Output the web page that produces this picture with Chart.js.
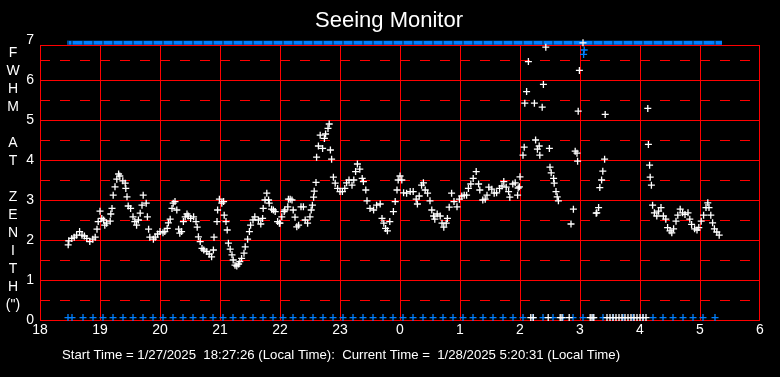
<!DOCTYPE html>
<html>
<head>
<meta charset="utf-8">
<script src="https://cdn.jsdelivr.net/npm/chart.js@4.4.1/dist/chart.umd.min.js"></script>
<style>
html,body{margin:0;padding:0;background:#000;}
canvas{display:block;}
</style>
</head>
<body>
<canvas id="c" width="780" height="377"></canvas>
<script>
// ---------------- data ----------------
const hourLabels = ['18','19','20','21','22','23','0','1','2','3','4','5','6'];
const yTickLabels = ['0','1','2','3','4','5','6','7'];

// seeing samples: hours after midnight of start day (24+ = next day)
const seeingTimes = [
18.47,18.48,18.53,18.57,18.61,18.66,18.70,18.74,18.78,18.83,
18.88,18.92,18.95,18.97,19.00,19.03,19.06,19.08,19.11,19.17,
19.18,19.20,19.22,19.25,19.28,19.31,19.33,19.38,19.42,19.43,
19.45,19.47,19.51,19.55,19.58,19.61,19.64,19.67,19.70,19.72,
19.77,19.79,19.81,19.83,19.89,19.92,19.96,20.00,20.05,20.08,
20.12,20.14,20.17,20.20,20.22,20.25,20.28,20.31,20.33,20.36,
20.39,20.42,20.45,20.47,20.51,20.56,20.60,20.62,20.64,20.67,
20.70,20.73,20.78,20.82,20.86,20.89,20.90,20.95,20.96,20.99,
21.03,21.06,21.07,21.10,21.12,21.14,21.17,21.20,21.22,21.25,
21.28,21.31,21.33,21.36,21.40,21.42,21.46,21.49,21.51,21.55,
21.58,21.64,21.68,21.71,21.72,21.75,21.78,21.81,21.82,21.86,
21.89,21.92,21.96,21.99,22.00,22.03,22.07,22.08,22.13,22.14,
22.17,22.20,22.22,22.25,22.28,22.31,22.35,22.39,22.42,22.46,
22.50,22.52,22.54,22.56,22.57,22.60,22.61,22.64,22.67,22.71,
22.74,22.76,22.80,22.82,22.84,22.86,22.89,22.92,22.96,23.00,
23.04,23.08,23.11,23.15,23.20,23.23,23.26,23.29,23.33,23.37,
23.39,23.43,23.45,23.50,23.56,23.61,23.67,23.70,23.73,23.76,
23.79,23.83,23.89,23.92,23.95,23.97,24.00,24.03,24.06,24.11,
24.17,24.22,24.27,24.29,24.32,24.36,24.39,24.42,24.46,24.50,
24.53,24.56,24.58,24.62,24.67,24.70,24.73,24.77,24.79,24.82,
24.86,24.90,24.95,24.99,25.03,25.07,25.11,25.14,25.18,25.22,
25.27,25.31,25.33,25.38,25.42,25.45,25.48,25.53,25.57,25.61,
25.66,25.70,25.73,25.77,25.81,25.83,25.88,25.92,25.96,25.97,
25.99,26.00,26.05,26.07,26.08,26.11,26.14,26.24,26.26,26.29,
26.32,26.33,26.37,26.39,26.43,26.49,26.50,26.52,26.56,26.57,
26.60,26.62,26.64,26.85,26.89,26.92,26.95,26.96,26.97,26.99,
27.27,27.28,27.31,27.33,27.36,27.38,27.41,27.42,28.13,28.14,
28.16,28.17,28.19,28.21,28.24,28.28,28.31,28.35,28.39,28.43,
28.46,28.50,28.53,28.56,28.60,28.63,28.67,28.71,28.75,28.80,
28.83,28.86,28.91,28.95,28.98,29.02,29.06,29.10,29.13,29.15,
29.18,29.21,29.24,29.28,29.32,27.05
];
const seeingValues = [
1.88,1.98,2.04,2.07,2.12,2.21,2.12,2.10,2.04,1.96,
2.02,2.07,2.27,2.46,2.72,2.54,2.50,2.37,2.42,2.47,
2.65,2.79,3.12,3.33,3.52,3.65,3.60,3.48,3.42,3.29,
3.08,2.85,2.79,2.58,2.46,2.37,2.50,2.67,2.87,3.12,
2.92,2.58,2.27,2.07,2.02,2.07,2.15,2.21,2.18,2.21,
2.29,2.43,2.52,2.79,2.92,2.96,2.75,2.27,2.17,2.21,
2.46,2.58,2.65,2.60,2.54,2.58,2.46,2.32,2.08,1.96,
1.79,1.75,1.71,1.65,1.58,1.75,2.07,2.46,2.75,3.02,
2.92,2.96,2.62,2.46,2.25,1.92,1.77,1.63,1.50,1.37,
1.35,1.40,1.46,1.54,1.67,1.83,2.02,2.21,2.37,2.50,
2.58,2.50,2.40,2.54,2.79,3.00,3.17,3.00,2.92,2.77,
2.75,2.71,2.46,2.42,2.42,2.58,2.71,2.75,2.83,3.02,
3.02,3.00,2.75,2.57,2.33,2.37,2.83,2.83,2.50,2.42,
2.58,2.75,2.87,3.07,3.22,3.44,4.07,4.35,4.62,4.29,
4.54,4.65,4.79,4.90,4.25,4.02,3.57,3.42,3.29,3.21,
3.21,3.29,3.43,3.50,3.37,3.50,3.71,3.90,3.77,3.54,
3.46,3.25,2.98,2.79,2.75,2.87,2.90,2.54,2.42,2.29,
2.23,2.46,2.71,2.96,3.25,3.50,3.60,3.50,3.18,3.17,
3.21,3.21,3.02,2.90,3.10,3.37,3.43,3.25,3.17,2.98,
2.75,2.60,2.52,2.65,2.60,2.42,2.32,2.42,2.54,2.82,
3.17,2.96,2.83,3.02,3.10,3.12,3.12,3.29,3.40,3.54,
3.71,3.40,3.25,3.00,3.02,3.12,3.32,3.27,3.17,3.18,
3.29,3.35,3.46,3.32,3.21,3.07,3.40,3.43,3.12,3.30,
3.33,3.58,4.12,4.32,5.42,5.71,6.46,5.42,4.50,4.27,
4.35,4.12,5.32,5.89,6.82,4.29,3.82,3.68,3.54,3.42,
3.21,3.08,2.98,2.40,2.77,4.22,4.17,3.97,5.22,6.24,
2.67,2.68,2.81,3.31,3.50,3.72,4.02,5.14,5.29,4.39,
3.87,3.57,3.37,2.87,2.68,2.60,2.72,2.81,2.60,2.52,
2.31,2.23,2.18,2.28,2.47,2.62,2.77,2.68,2.64,2.68,
2.52,2.39,2.28,2.25,2.31,2.47,2.62,2.81,2.93,2.81,
2.62,2.43,2.28,2.20,2.12,6.93
];

// seeing samples flagged at the bottom of the chart
const zeroSeeingTimes = [26.18,26.22,26.47,26.67,26.70,26.82,27.17,27.20,27.23,27.45,
27.50,27.55,27.60,27.65,27.70,27.75,27.80,27.85,27.90,27.95,28.00,28.05,28.10];

// blue status markers (clock times)
const statusTimes = ['18:28','18:32','18:43','18:53','19:03','19:13','19:23','19:33','19:43','19:53',
'20:03','20:13','20:23','20:33','20:43','20:53','21:03','21:13','21:23','21:33',
'21:43','21:53','22:03','22:13','22:23','22:33','22:43','22:53','23:03','23:13',
'23:23','23:33','23:43','23:53','00:03','00:13','00:23','00:33','00:43','00:53',
'01:03','01:13','01:23','01:33','01:43','01:53','02:03','02:13','02:23','02:33',
'02:43','02:53','03:03','03:13','03:23','03:33','03:43','03:53','04:03','04:13',
'04:23','04:33','04:43','04:53','05:03','05:15'];
const topBarTimes = ['18:27','18:43','19:43','20:43','21:43','22:43','23:43','00:43','01:43','02:43','03:43','04:43','05:22'];
const blueHighTimes = [27.06, 27.07];
const blueHighValues = [6.64, 6.75];
const lowMarkerLevel = 0.06;
const topBarLevel = 6.93;

const titleText = 'Seeing Monitor';
const yAxisTitle = ['F','W','H','M','','A','T','','Z','E','N','I','T','H','(")'];
const footerText = 'Start Time = 1/27/2025  18:27:26 (Local Time):  Current Time =  1/28/2025 5:20:31 (Local Time)';

// ---------------- helpers / styles ----------------
const FONT = '"Liberation Sans", Arial, Helvetica, sans-serif';
const RED = '#ff0000';
const BLUE = 'rgb(0,128,255)';
const toHours = s => { const [h, m] = s.split(':').map(Number); let v = h + m / 60; if (v < 12) v += 24; return v; };

const gridPlugin = {
  id: 'seeingGrid',
  beforeDatasetsDraw(chart) {
    const { ctx, scales: { x, y } } = chart;
    const L = Math.round(x.getPixelForValue(18));
    const R = Math.round(x.getPixelForValue(30));
    const B = Math.round(y.getPixelForValue(0));
    const T = Math.round(y.getPixelForValue(6.875));
    ctx.save();
    ctx.strokeStyle = RED;
    ctx.lineWidth = 1;
    ctx.setLineDash([10, 10]);
    ctx.beginPath();
    for (let v = 0.5; v < 7; v += 1) {
      const py = Math.round(y.getPixelForValue(v)) + 0.5;
      ctx.moveTo(L, py); ctx.lineTo(R, py);
    }
    ctx.stroke();
    ctx.setLineDash([]);
    ctx.beginPath();
    for (let v = 1; v <= 6; v++) {
      const py = Math.round(y.getPixelForValue(v)) + 0.5;
      ctx.moveTo(L, py); ctx.lineTo(R, py);
    }
    for (let h = 19; h <= 29; h++) {
      const px = Math.round(x.getPixelForValue(h)) + 0.5;
      ctx.moveTo(px, T); ctx.lineTo(px, B);
    }
    ctx.stroke();
    ctx.strokeRect(L + 0.5, T + 0.5, R - L - 1, B - T);
    ctx.restore();
  }
};

const textPlugin = {
  id: 'seeingText',
  afterDraw(chart) {
    const ctx = chart.ctx;
    ctx.save();
    ctx.fillStyle = '#ffffff';
    ctx.textAlign = 'center';
    ctx.textBaseline = 'middle';
    ctx.font = '22px ' + FONT;
    ctx.fillText(titleText, 389, 21);
    ctx.font = '14px ' + FONT;
    yAxisTitle.forEach((ch, i) => { if (ch) ctx.fillText(ch, 13, 53 + i * 18); });
    ctx.textAlign = 'left';
    let size = 14;
    ctx.font = size + 'px ' + FONT;
    const w = ctx.measureText(footerText).width;
    size = size * 558 / w;
    ctx.font = size.toFixed(2) + 'px ' + FONT;
    ctx.fillText(footerText, 62, 355);
    ctx.restore();
  }
};

const whiteCross = { pointStyle: 'cross', pointRadius: 3.5, pointBorderWidth: 1.3, borderColor: '#ffffff', backgroundColor: '#ffffff', clip: false };
const blueCross = { pointStyle: 'cross', pointRadius: 3.5, pointBorderWidth: 1.3, borderColor: BLUE, backgroundColor: BLUE, clip: false };

new Chart(document.getElementById('c'), {
  type: 'scatter',
  data: {
    datasets: [
      Object.assign({ label: 'FWHM', data: seeingTimes.map((t, i) => ({ x: t, y: seeingValues[i] })) }, whiteCross),
      Object.assign({ label: 'zero', data: zeroSeeingTimes.map(t => ({ x: t, y: lowMarkerLevel })) }, whiteCross),
      Object.assign({ label: 'high', data: blueHighTimes.map((t, i) => ({ x: t, y: blueHighValues[i] })) }, blueCross),
      Object.assign({ label: 'status', data: statusTimes.map(s => ({ x: toHours(s), y: lowMarkerLevel })) }, blueCross),
      { label: 'notch', data: statusTimes.map(s => ({ x: toHours(s), y: topBarLevel })), pointStyle: 'line', rotation: 90, pointRadius: 2, pointBorderWidth: 1, borderColor: '#001a33', backgroundColor: '#001a33', clip: false },
      { label: 'bar', data: topBarTimes.map(s => ({ x: toHours(s), y: topBarLevel })), showLine: true, borderColor: BLUE, borderWidth: 4, pointRadius: 0, clip: false }
    ]
  },
  options: {
    responsive: false,
    animation: false,
    devicePixelRatio: 1,
    layout: { padding: { top: 40, right: 20, left: 0, bottom: 0 } },
    plugins: {
      legend: { display: false },
      tooltip: { enabled: false },
      title: { display: false }
    },
    scales: {
      x: {
        type: 'linear', min: 18, max: 30,
        afterFit(s) { s.height = 57; },
        grid: { display: false, drawTicks: false }, border: { display: false },
        ticks: { stepSize: 1, autoSkip: false, maxRotation: 0, color: '#ffffff', padding: 2, font: { family: FONT, size: 14 }, callback: v => hourLabels[Math.round(v - 18)] }
      },
      y: {
        type: 'linear', min: 0, max: 7,
        afterFit(s) { s.width = 40; },
        grid: { display: false, drawTicks: false }, border: { display: false },
        ticks: { stepSize: 1, color: '#ffffff', padding: 6, font: { family: FONT, size: 14 }, callback: v => yTickLabels[Math.round(v)] }
      }
    }
  },
  plugins: [gridPlugin, textPlugin]
});
</script>
</body>
</html>
